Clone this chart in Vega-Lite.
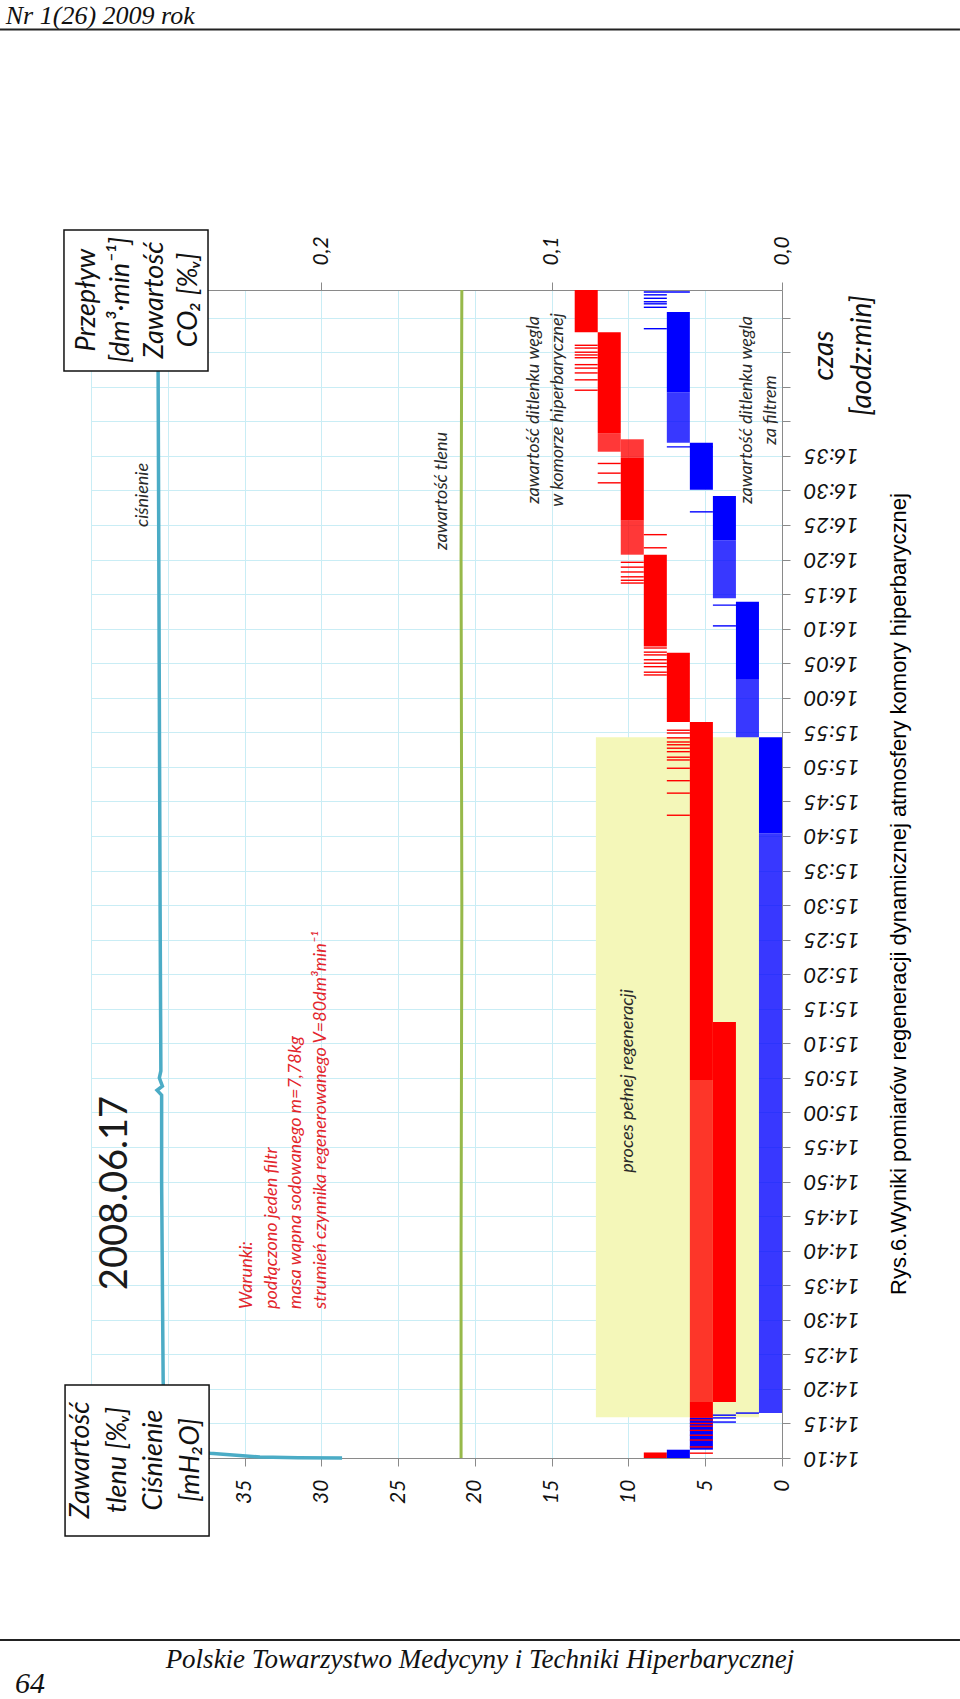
{
  "$schema": "https://vega.github.io/schema/vega-lite/v6.json",
  "width": 691,
  "height": 1168,
  "autosize": {"type": "none"},
  "padding": {"left": 91, "top": 290, "right": 178, "bottom": 241},
  "background": "white",
  "config": {
    "view": {"stroke": null},
    "axis": {
      "labelFont": "Lato",
      "labelFontStyle": "italic",
      "labelColor": "#111111",
      "domainColor": "#8a8a8a",
      "tickColor": "#8a8a8a",
      "tickSize": 8,
      "gridColor": "#c9edf5",
      "gridWidth": 1,
      "labelOverlap": false,
      "labelBound": false,
      "labelFlush": false
    }
  },
  "datasets": {
    "okno_regeneracji": [{"t1": 855.9, "t2": 954.3, "lo": 0.01, "hi": 0.0808}],
    "co2_pasma": [
      {"seria": "komora", "t1": 850.0, "t2": 850.8, "lo": 0.05, "hi": 0.06, "zmiennosc": "gęsta"},
      {"seria": "komora", "t1": 855.8, "t2": 858.1, "lo": 0.03, "hi": 0.04, "zmiennosc": "gęsta"},
      {"seria": "komora", "t1": 858.1, "t2": 913.1, "lo": 0.02, "hi": 0.03, "zmiennosc": "gęsta"},
      {"seria": "komora", "t1": 858.1, "t2": 904.7, "lo": 0.03, "hi": 0.04, "zmiennosc": "rzadka"},
      {"seria": "komora", "t1": 904.7, "t2": 956.5, "lo": 0.03, "hi": 0.04, "zmiennosc": "gęsta"},
      {"seria": "komora", "t1": 956.5, "t2": 966.5, "lo": 0.04, "hi": 0.05, "zmiennosc": "gęsta"},
      {"seria": "komora", "t1": 967.4, "t2": 980.7, "lo": 0.05, "hi": 0.06, "zmiennosc": "gęsta"},
      {"seria": "komora", "t1": 980.7, "t2": 985.7, "lo": 0.06, "hi": 0.07, "zmiennosc": "rzadka"},
      {"seria": "komora", "t1": 985.7, "t2": 994.7, "lo": 0.06, "hi": 0.07, "zmiennosc": "gęsta"},
      {"seria": "komora", "t1": 994.7, "t2": 997.4, "lo": 0.06, "hi": 0.07, "zmiennosc": "rzadka"},
      {"seria": "komora", "t1": 995.6, "t2": 998.3, "lo": 0.07, "hi": 0.08, "zmiennosc": "rzadka"},
      {"seria": "komora", "t1": 998.3, "t2": 1012.9, "lo": 0.07, "hi": 0.08, "zmiennosc": "gęsta"},
      {"seria": "komora", "t1": 1012.9, "t2": 1019.0, "lo": 0.08, "hi": 0.09, "zmiennosc": "gęsta"},
      {"seria": "filtr", "t1": 850.0, "t2": 851.2, "lo": 0.04, "hi": 0.05, "zmiennosc": "gęsta"},
      {"seria": "filtr", "t1": 851.2, "t2": 855.8, "lo": 0.03, "hi": 0.04, "zmiennosc": "gęsta"},
      {"seria": "filtr", "t1": 856.5, "t2": 940.4, "lo": 0.0, "hi": 0.01, "zmiennosc": "rzadka"},
      {"seria": "filtr", "t1": 940.4, "t2": 954.3, "lo": 0.0, "hi": 0.01, "zmiennosc": "gęsta"},
      {"seria": "filtr", "t1": 954.3, "t2": 962.6, "lo": 0.01, "hi": 0.02, "zmiennosc": "rzadka"},
      {"seria": "filtr", "t1": 962.6, "t2": 973.9, "lo": 0.01, "hi": 0.02, "zmiennosc": "gęsta"},
      {"seria": "filtr", "t1": 974.4, "t2": 982.8, "lo": 0.02, "hi": 0.03, "zmiennosc": "rzadka"},
      {"seria": "filtr", "t1": 982.8, "t2": 989.2, "lo": 0.02, "hi": 0.03, "zmiennosc": "gęsta"},
      {"seria": "filtr", "t1": 990.1, "t2": 996.9, "lo": 0.03, "hi": 0.04, "zmiennosc": "gęsta"},
      {"seria": "filtr", "t1": 996.9, "t2": 1004.2, "lo": 0.04, "hi": 0.05, "zmiennosc": "rzadka"},
      {"seria": "filtr", "t1": 1004.2, "t2": 1015.8, "lo": 0.04, "hi": 0.05, "zmiennosc": "gęsta"}
    ],
    "co2_skoki": [
      {"seria": "filtr", "czas": 855.2, "lo": 0.02, "hi": 0.03},
      {"seria": "filtr", "czas": 855.8, "lo": 0.02, "hi": 0.03},
      {"seria": "filtr", "czas": 856.2, "lo": 0.02, "hi": 0.03},
      {"seria": "filtr", "czas": 856.5, "lo": 0.01, "hi": 0.02},
      {"seria": "filtr", "czas": 970.4, "lo": 0.02, "hi": 0.03},
      {"seria": "filtr", "czas": 973.4, "lo": 0.01, "hi": 0.03},
      {"seria": "filtr", "czas": 986.9, "lo": 0.03, "hi": 0.04},
      {"seria": "filtr", "czas": 996.3, "lo": 0.03, "hi": 0.05},
      {"seria": "filtr", "czas": 1013.4, "lo": 0.05, "hi": 0.06},
      {"seria": "filtr", "czas": 1016.5, "lo": 0.05, "hi": 0.06},
      {"seria": "filtr", "czas": 1017.0, "lo": 0.05, "hi": 0.06},
      {"seria": "filtr", "czas": 1017.3, "lo": 0.05, "hi": 0.06},
      {"seria": "filtr", "czas": 1017.8, "lo": 0.05, "hi": 0.06},
      {"seria": "filtr", "czas": 1018.3, "lo": 0.05, "hi": 0.06},
      {"seria": "filtr", "czas": 1018.7, "lo": 0.04, "hi": 0.06},
      {"seria": "komora", "czas": 850.7, "lo": 0.03, "hi": 0.04},
      {"seria": "komora", "czas": 851.6, "lo": 0.03, "hi": 0.04},
      {"seria": "komora", "czas": 852.6, "lo": 0.03, "hi": 0.04},
      {"seria": "komora", "czas": 853.3, "lo": 0.03, "hi": 0.04},
      {"seria": "komora", "czas": 854.0, "lo": 0.03, "hi": 0.04},
      {"seria": "komora", "czas": 854.6, "lo": 0.03, "hi": 0.04},
      {"seria": "komora", "czas": 855.0, "lo": 0.03, "hi": 0.04},
      {"seria": "komora", "czas": 855.5, "lo": 0.03, "hi": 0.04},
      {"seria": "komora", "czas": 943.0, "lo": 0.04, "hi": 0.05},
      {"seria": "komora", "czas": 946.2, "lo": 0.04, "hi": 0.05},
      {"seria": "komora", "czas": 948.0, "lo": 0.04, "hi": 0.05},
      {"seria": "komora", "czas": 949.8, "lo": 0.04, "hi": 0.05},
      {"seria": "komora", "czas": 951.0, "lo": 0.04, "hi": 0.05},
      {"seria": "komora", "czas": 951.4, "lo": 0.04, "hi": 0.05},
      {"seria": "komora", "czas": 952.2, "lo": 0.04, "hi": 0.05},
      {"seria": "komora", "czas": 952.7, "lo": 0.04, "hi": 0.05},
      {"seria": "komora", "czas": 953.2, "lo": 0.04, "hi": 0.05},
      {"seria": "komora", "czas": 953.6, "lo": 0.04, "hi": 0.05},
      {"seria": "komora", "czas": 954.2, "lo": 0.04, "hi": 0.05},
      {"seria": "komora", "czas": 954.9, "lo": 0.04, "hi": 0.05},
      {"seria": "komora", "czas": 955.3, "lo": 0.04, "hi": 0.05},
      {"seria": "komora", "czas": 963.3, "lo": 0.05, "hi": 0.06},
      {"seria": "komora", "czas": 963.7, "lo": 0.05, "hi": 0.06},
      {"seria": "komora", "czas": 964.5, "lo": 0.05, "hi": 0.06},
      {"seria": "komora", "czas": 965.0, "lo": 0.05, "hi": 0.06},
      {"seria": "komora", "czas": 965.5, "lo": 0.05, "hi": 0.06},
      {"seria": "komora", "czas": 966.2, "lo": 0.05, "hi": 0.06},
      {"seria": "komora", "czas": 966.6, "lo": 0.05, "hi": 0.06},
      {"seria": "komora", "czas": 967.2, "lo": 0.05, "hi": 0.06},
      {"seria": "komora", "czas": 976.6, "lo": 0.06, "hi": 0.07},
      {"seria": "komora", "czas": 977.0, "lo": 0.06, "hi": 0.07},
      {"seria": "komora", "czas": 977.5, "lo": 0.06, "hi": 0.07},
      {"seria": "komora", "czas": 978.2, "lo": 0.06, "hi": 0.07},
      {"seria": "komora", "czas": 978.9, "lo": 0.06, "hi": 0.07},
      {"seria": "komora", "czas": 979.6, "lo": 0.06, "hi": 0.07},
      {"seria": "komora", "czas": 981.7, "lo": 0.05, "hi": 0.06},
      {"seria": "komora", "czas": 983.6, "lo": 0.05, "hi": 0.06},
      {"seria": "komora", "czas": 991.1, "lo": 0.07, "hi": 0.08},
      {"seria": "komora", "czas": 992.5, "lo": 0.07, "hi": 0.08},
      {"seria": "komora", "czas": 993.9, "lo": 0.07, "hi": 0.08},
      {"seria": "komora", "czas": 1004.5, "lo": 0.08, "hi": 0.09},
      {"seria": "komora", "czas": 1006.0, "lo": 0.08, "hi": 0.09},
      {"seria": "komora", "czas": 1007.0, "lo": 0.08, "hi": 0.09},
      {"seria": "komora", "czas": 1007.7, "lo": 0.08, "hi": 0.09},
      {"seria": "komora", "czas": 1008.2, "lo": 0.08, "hi": 0.09},
      {"seria": "komora", "czas": 1009.2, "lo": 0.08, "hi": 0.09},
      {"seria": "komora", "czas": 1009.6, "lo": 0.08, "hi": 0.09},
      {"seria": "komora", "czas": 1010.0, "lo": 0.08, "hi": 0.09},
      {"seria": "komora", "czas": 1010.6, "lo": 0.08, "hi": 0.09},
      {"seria": "komora", "czas": 1011.0, "lo": 0.08, "hi": 0.09}
    ],
    "tlen": [
      {"czas": 850.0, "wartosc": 20.9},
      {"czas": 880.0, "wartosc": 20.9},
      {"czas": 930.0, "wartosc": 20.85},
      {"czas": 980.0, "wartosc": 20.9},
      {"czas": 1019.0, "wartosc": 20.85}
    ],
    "cisnienie": [
      {"czas": 850.0, "wartosc": 28.65},
      {"czas": 850.05, "wartosc": 31.5},
      {"czas": 850.15, "wartosc": 34.0},
      {"czas": 850.7, "wartosc": 37.25},
      {"czas": 851.5, "wartosc": 39.2},
      {"czas": 853.0, "wartosc": 40.1},
      {"czas": 861.0, "wartosc": 40.3},
      {"czas": 875.0, "wartosc": 40.35},
      {"czas": 890.0, "wartosc": 40.4},
      {"czas": 902.5, "wartosc": 40.4},
      {"czas": 903.2, "wartosc": 40.7},
      {"czas": 903.8, "wartosc": 40.35},
      {"czas": 905.0, "wartosc": 40.55},
      {"czas": 906.0, "wartosc": 40.45},
      {"czas": 930.0, "wartosc": 40.5},
      {"czas": 960.0, "wartosc": 40.55},
      {"czas": 990.0, "wartosc": 40.6},
      {"czas": 1019.0, "wartosc": 40.65}
    ],
    "opis_serii": [
      {"tekst": "ciśnienie", "wartosc": 41.64, "czas": 989.34},
      {"tekst": "zawartość tlenu", "wartosc": 22.14, "czas": 989.92},
      {"tekst": "zawartość ditlenku węgla\nw komorze hiperbarycznej", "wartosc": 16.15, "czas": 1001.64},
      {"tekst": "zawartość ditlenku węgla\nza filtrem", "wartosc": 2.28, "czas": 1001.64},
      {"tekst": "proces pełnej regeneracji", "wartosc": 10.03, "czas": 904.55}
    ],
    "opis_daty": [{"tekst": "2008.06.17", "wartosc": 43.37, "czas": 888.34}],
    "opis_warunki": [{"tekst": "Warunki:\npodłączono jeden filtr\nmasa wapna sodowanego m=7,78kg\nstrumień czynnika regenerowanego V=80dm³min⁻¹", "wartosc": 34.84, "czas": 871.56}],
    "ramki": [
      {"w1": 46.76, "w2": 37.38, "c1": 1027.68, "c2": 1007.28},
      {"w1": 46.69, "w2": 37.31, "c1": 860.56, "c2": 838.71}
    ],
    "ramka_co2_opis": [{"tekst": "Przepływ\n[dm³·min⁻¹]\nZawartość\nCO₂ [%ᵥ]", "wartosc": 45.26, "czas": 1017.55}],
    "ramka_tlen_opis": [{"tekst": "Zawartość\ntlenu [%ᵥ]\nCiśnienie\n[mH₂O]", "wartosc": 45.65, "czas": 849.71}],
    "strona_linie": [
      {"w1": 50.93, "w2": -11.59, "czas": 1056.7},
      {"w1": 50.93, "w2": -11.59, "czas": 823.66}
    ],
    "strona_naglowek": [{"tekst": "Nr 1(26) 2009 rok", "wartosc": 50.55, "czas": 1057.49}],
    "strona_stopka": [{"tekst": "Polskie Towarzystwo Medycyny i Techniki Hiperbarycznej", "wartosc": 19.67, "czas": 819.61}],
    "strona_numer": [{"tekst": "64", "wartosc": 49.95, "czas": 815.13}],
    "podpis": [{"tekst": "Rys.6.Wyniki pomiarów regeneracji dynamicznej atmosfery komory hiperbarycznej", "wartosc": -7.62, "czas": 931.6}]
  },
  "layer": [
    {
      "layer": [
        {
          "data": {"name": "okno_regeneracji"},
          "mark": {"type": "rect", "color": "#f4f7b9"},
          "encoding": {
            "x": {
              "field": "lo", "type": "quantitative",
              "scale": {"domain": [0, 0.3], "reverse": true, "nice": false, "zero": false},
              "axis": {
                "orient": "top", "values": [0, 0.1, 0.2], "format": ".1f",
                "labelExpr": "replace(datum.label, '.', ',')",
                "labelAngle": 270, "labelAlign": "left", "labelBaseline": "middle",
                "labelPadding": 17, "labelFontSize": 21, "labelOverlap": false, "grid": false, "title": null
              }
            },
            "x2": {"field": "hi"},
            "y": {
              "field": "t1", "type": "quantitative",
              "scale": {"domain": [850, 1019], "nice": false, "zero": false},
              "axis": {
                "orient": "right",
                "values": [850, 855, 860, 865, 870, 875, 880, 885, 890, 895, 900, 905, 910, 915, 920, 925, 930, 935, 940, 945, 950, 955, 960, 965, 970, 975, 980, 985, 990, 995, 1000, 1005, 1010, 1015],
                "tickCount": 34,
                "labelExpr": "datum.value <= 995 ? floor(datum.value / 60) + ':' + (datum.value % 60 < 10 ? '0' : '') + (datum.value % 60) : ''",
                "labelAngle": 180, "labelAlign": "right", "labelBaseline": "middle",
                "labelPadding": 13, "labelFontSize": 22, "labelOverlap": false, "grid": true,
                "title": ["czas", "[aodz:min]"],
                "titleAngle": 270, "titleFont": "Lato", "titleFontStyle": "italic",
                "titleFontWeight": "normal", "titleFontSize": 28, "titleColor": "#111111",
                "titleX": 42, "titleY": 65, "titleAlign": "center", "titleBaseline": "middle",
                "titleLineHeight": 38
              }
            },
            "y2": {"field": "t2"}
          }
        },
        {
          "data": {"name": "co2_pasma"},
          "mark": {"type": "rect"},
          "encoding": {
            "x": {"field": "lo", "type": "quantitative"},
            "x2": {"field": "hi"},
            "y": {"field": "t1", "type": "quantitative"},
            "y2": {"field": "t2"},
            "color": {"field": "seria", "type": "nominal", "scale": {"domain": ["komora", "filtr"], "range": ["#ff0000", "#0000ff"]}, "legend": null},
            "opacity": {"field": "zmiennosc", "type": "nominal", "scale": {"domain": ["gęsta", "rzadka"], "range": [1, 0.78]}, "legend": null}
          }
        },
        {
          "data": {"name": "co2_skoki"},
          "mark": {"type": "rule", "strokeWidth": 1.4},
          "encoding": {
            "x": {"field": "lo", "type": "quantitative"},
            "x2": {"field": "hi"},
            "y": {"field": "czas", "type": "quantitative"},
            "color": {"field": "seria", "type": "nominal", "legend": null}
          }
        }
      ]
    },
    {
      "layer": [
        {
          "data": {"name": "tlen"},
          "mark": {"type": "line", "color": "#97b94a", "strokeWidth": 3},
          "encoding": {
            "x": {
              "field": "wartosc", "type": "quantitative",
              "scale": {"domain": [0, 45], "reverse": true, "nice": false, "zero": false},
              "axis": {
                "orient": "bottom", "values": [0, 5, 10, 15, 20, 25, 30, 35, 40, 45],
                "labelExpr": "datum.value > 35 ? '' : datum.label",
                "labelAngle": 270, "labelAlign": "right", "labelBaseline": "middle",
                "labelPadding": 13, "labelFontSize": 21, "labelOverlap": false, "grid": true, "title": null
              }
            },
            "y": {
              "field": "czas", "type": "quantitative",
              "axis": {
                "orient": "right",
                "values": [850, 855, 860, 865, 870, 875, 880, 885, 890, 895, 900, 905, 910, 915, 920, 925, 930, 935, 940, 945, 950, 955, 960, 965, 970, 975, 980, 985, 990, 995, 1000, 1005, 1010, 1015],
                "tickCount": 34,
                "labelExpr": "datum.value <= 995 ? floor(datum.value / 60) + ':' + (datum.value % 60 < 10 ? '0' : '') + (datum.value % 60) : ''",
                "labelAngle": 180, "labelAlign": "right", "labelBaseline": "middle",
                "labelPadding": 13, "labelFontSize": 22, "labelOverlap": false, "grid": true,
                "title": ["czas", "[aodz:min]"],
                "titleAngle": 270, "titleFont": "Lato", "titleFontStyle": "italic",
                "titleFontWeight": "normal", "titleFontSize": 28, "titleColor": "#111111",
                "titleX": 42, "titleY": 65, "titleAlign": "center", "titleBaseline": "middle",
                "titleLineHeight": 38
              }
            },
            "order": {"field": "czas"}
          }
        },
        {
          "data": {"name": "cisnienie"},
          "mark": {"type": "line", "color": "#4bacc6", "strokeWidth": 3.5},
          "encoding": {
            "x": {"field": "wartosc", "type": "quantitative"},
            "y": {"field": "czas", "type": "quantitative"},
            "order": {"field": "czas"}
          }
        },
        {
          "data": {"name": "opis_serii"},
          "mark": {"type": "text", "font": "Lato", "fontStyle": "italic", "fontSize": 18, "color": "#2a2a2a", "angle": 270, "align": "center", "baseline": "middle", "lineBreak": "\n", "lineHeight": 24},
          "encoding": {
            "x": {"field": "wartosc", "type": "quantitative"},
            "y": {"field": "czas", "type": "quantitative"},
            "text": {"field": "tekst"}
          }
        },
        {
          "data": {"name": "opis_daty"},
          "mark": {"type": "text", "font": "Lato", "fontSize": 38, "color": "#1a1a1a", "angle": 270, "align": "center", "baseline": "middle"},
          "encoding": {
            "x": {"field": "wartosc", "type": "quantitative"},
            "y": {"field": "czas", "type": "quantitative"},
            "text": {"field": "tekst"}
          }
        },
        {
          "data": {"name": "opis_warunki"},
          "mark": {"type": "text", "font": "Lato", "fontStyle": "italic", "fontSize": 18, "color": "#e3262d", "angle": 270, "align": "left", "baseline": "middle", "lineBreak": "\n", "lineHeight": 24.7},
          "encoding": {
            "x": {"field": "wartosc", "type": "quantitative"},
            "y": {"field": "czas", "type": "quantitative"},
            "text": {"field": "tekst"}
          }
        },
        {
          "data": {"name": "ramki"},
          "mark": {"type": "rect", "fill": "white", "stroke": "#111111", "strokeWidth": 1.5},
          "encoding": {
            "x": {"field": "w1", "type": "quantitative"},
            "x2": {"field": "w2"},
            "y": {"field": "c1", "type": "quantitative"},
            "y2": {"field": "c2"}
          }
        },
        {
          "data": {"name": "ramka_co2_opis"},
          "mark": {"type": "text", "font": "Lato", "fontStyle": "italic", "fontSize": 27, "color": "#111111", "angle": 270, "align": "center", "baseline": "middle", "lineBreak": "\n", "lineHeight": 34},
          "encoding": {
            "x": {"field": "wartosc", "type": "quantitative"},
            "y": {"field": "czas", "type": "quantitative"},
            "text": {"field": "tekst"}
          }
        },
        {
          "data": {"name": "ramka_tlen_opis"},
          "mark": {"type": "text", "font": "Lato", "fontStyle": "italic", "fontSize": 27, "color": "#111111", "angle": 270, "align": "center", "baseline": "middle", "lineBreak": "\n", "lineHeight": 36.5},
          "encoding": {
            "x": {"field": "wartosc", "type": "quantitative"},
            "y": {"field": "czas", "type": "quantitative"},
            "text": {"field": "tekst"}
          }
        },
        {
          "data": {"name": "strona_linie"},
          "mark": {"type": "rule", "color": "#222222", "strokeWidth": 2},
          "encoding": {
            "x": {"field": "w1", "type": "quantitative"},
            "x2": {"field": "w2"},
            "y": {"field": "czas", "type": "quantitative"}
          }
        },
        {
          "data": {"name": "strona_naglowek"},
          "mark": {"type": "text", "font": "Liberation Serif", "fontStyle": "italic", "fontSize": 26, "color": "#111111", "align": "left", "baseline": "alphabetic"},
          "encoding": {
            "x": {"field": "wartosc", "type": "quantitative"},
            "y": {"field": "czas", "type": "quantitative"},
            "text": {"field": "tekst"}
          }
        },
        {
          "data": {"name": "strona_stopka"},
          "mark": {"type": "text", "font": "Liberation Serif", "fontStyle": "italic", "fontSize": 27, "color": "#111111", "align": "center", "baseline": "alphabetic"},
          "encoding": {
            "x": {"field": "wartosc", "type": "quantitative"},
            "y": {"field": "czas", "type": "quantitative"},
            "text": {"field": "tekst"}
          }
        },
        {
          "data": {"name": "strona_numer"},
          "mark": {"type": "text", "font": "Liberation Serif", "fontStyle": "italic", "fontSize": 30, "color": "#111111", "align": "left", "baseline": "bottom"},
          "encoding": {
            "x": {"field": "wartosc", "type": "quantitative"},
            "y": {"field": "czas", "type": "quantitative"},
            "text": {"field": "tekst"}
          }
        },
        {
          "data": {"name": "podpis"},
          "mark": {"type": "text", "font": "Liberation Sans", "fontSize": 22, "color": "#000000", "angle": 270, "align": "center", "baseline": "middle"},
          "encoding": {
            "x": {"field": "wartosc", "type": "quantitative"},
            "y": {"field": "czas", "type": "quantitative"},
            "text": {"field": "tekst"}
          }
        }
      ]
    }
  ],
  "resolve": {"scale": {"x": "independent"}, "axis": {"x": "independent"}}
}
